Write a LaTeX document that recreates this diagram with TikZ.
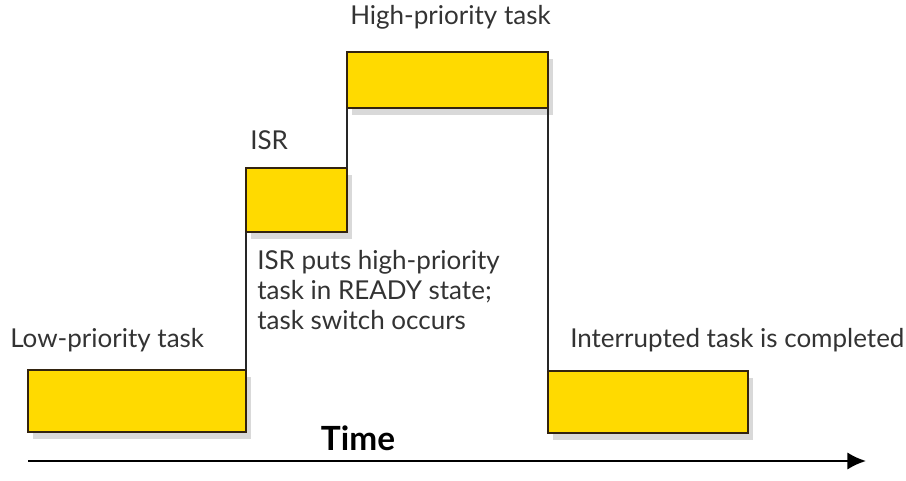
\documentclass[tikz,border=0pt]{standalone}
\usepackage{fontspec}
\setmainfont{Lato}
\usetikzlibrary{shadows,arrows.meta}
\definecolor{taskyellow}{RGB}{255,218,0}
\definecolor{taskedge}{RGB}{50,35,15}
\begin{document}
\begin{tikzpicture}[x=0.75pt,y=-0.75pt,
  task/.style={draw=taskedge, line width=1.6pt, fill=taskyellow, inner sep=0pt, outer sep=0pt,
    drop shadow={shadow xshift=4pt, shadow yshift=-5pt, opacity=0.25, fill=black!60}},
  lbl/.style={font=\fontsize{19.5}{22.5}\selectfont, text=black!80, inner sep=0pt},
  conn/.style={draw=black!85, line width=1.5pt}]
\useasboundingbox (0,0) rectangle (906,481);
\node[task, minimum width=163.5pt, minimum height=46.5pt, anchor=north west] (low) at (28,370) {};
\node[task, minimum width=75.75pt, minimum height=48pt, anchor=north west] (isr) at (246,168) {};
\node[task, minimum width=150.75pt, minimum height=42pt, anchor=north west] (high) at (347,52) {};
\node[task, minimum width=150pt, minimum height=46.5pt, anchor=north west] (done) at (548,371) {};
\draw[conn] (low.north east) -- (isr.south west);
\draw[conn] (isr.north east) -- (high.south west);
\draw[conn] (high.south east) -- (done.north west);
\node[lbl, anchor=west] (lowl) at (10,340) {Low-priority task};
\node[lbl, anchor=west] (isrl) at (250,140) {ISR};
\node[lbl, anchor=west] (highl) at (350,17) {High-priority task};
\node[lbl, anchor=north west, align=left] (note) at (257,250) {ISR puts high-priority\\task in READY state;\\task switch occurs};
\node[lbl, anchor=west] (donel) at (570,340) {Interrupted task is completed};
\node[lbl, font=\fontsize{25}{28}\selectfont\bfseries, text=black] (time) at (358,438) {Time};
\coordinate (t0) at (28,461);
\coordinate (t1) at (866,461);
\draw[line width=1.6pt, -{Latex[length=14pt,width=13pt]}] (t0) -- (t1);
\end{tikzpicture}
\end{document}
